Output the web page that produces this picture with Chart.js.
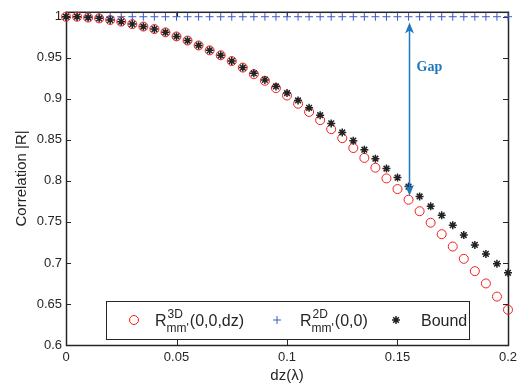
<!DOCTYPE html>
<html>
<head>
<meta charset="utf-8">
<script src="https://cdn.jsdelivr.net/npm/chart.js@4.4.1/dist/chart.umd.min.js"></script>
<style>
    html, body { margin: 0; padding: 0; background: #fff; }
    #wrap { width: 527px; height: 390px; }
</style>
</head>
<body>
<div id="wrap"><canvas id="corr-chart" width="527" height="390"></canvas></div>
<script>
// dz in wavelengths
const dzValues = [0, 0.005, 0.01, 0.015, 0.02, 0.025, 0.03, 0.035, 0.04, 0.045,
    0.05, 0.055, 0.06, 0.065, 0.07, 0.075, 0.08, 0.085, 0.09, 0.095,
    0.1, 0.105, 0.11, 0.115, 0.12, 0.125, 0.13, 0.135, 0.14, 0.145,
    0.15, 0.155, 0.16, 0.165, 0.17, 0.175, 0.18, 0.185, 0.19, 0.195, 0.2];

const r3dValues = [1.000, 1.000, 0.999, 0.998, 0.996, 0.994, 0.991, 0.988, 0.985, 0.981,
    0.976, 0.971, 0.965, 0.959, 0.953, 0.946, 0.938, 0.930, 0.922, 0.913,
    0.904, 0.894, 0.884, 0.874, 0.863, 0.852, 0.840, 0.828, 0.816, 0.803,
    0.790, 0.777, 0.763, 0.749, 0.735, 0.720, 0.705, 0.690, 0.675, 0.659, 0.643];

const r2dValues = [1, 1, 1, 1, 1, 1, 1, 1, 1, 1,
    1, 1, 1, 1, 1, 1, 1, 1, 1, 1,
    1, 1, 1, 1, 1, 1, 1, 1, 1, 1,
    1, 1, 1, 1, 1, 1, 1, 1, 1, 1, 1];

const boundValues = [1.000, 1.000, 0.999, 0.998, 0.996, 0.994, 0.991, 0.988, 0.985, 0.981,
    0.976, 0.971, 0.965, 0.959, 0.953, 0.946, 0.938, 0.931, 0.923, 0.915,
    0.907, 0.898, 0.889, 0.880, 0.870, 0.859, 0.849, 0.838, 0.827, 0.815,
    0.804, 0.793, 0.781, 0.769, 0.758, 0.746, 0.734, 0.722, 0.711, 0.699, 0.688];

const xTickValues = [0, 0.05, 0.1, 0.15, 0.2];
const yTickValues = [0.6, 0.65, 0.7, 0.75, 0.8, 0.85, 0.9, 0.95, 1];

// legend pieces: base, superscript, subscript, tail
const legendBase = ['R', 'R', 'Bound'];
const legendSup = ['3D', '2D', ''];
const legendSub = ["mm'", "mm'", ''];
const legendTail = ['(0,0,dz)', '(0,0)', ''];

// "Gap" annotation
const gapAt = 0.155;
const gapFrom = 0.993;
const gapTo = 0.782;
const gapLabel = 'Gap';
const gapLabelAt = 0.938;

const SANS = '"Liberation Sans", Arial, Helvetica, sans-serif';
const INK = '#262626';
const ARROW_BLUE = 'rgb(30,120,190)';

function fmtTick(v) {
    return String(Number(v.toFixed(3)));
}

function toPoints(values) {
    return values.map((v, i) => ({ x: dzValues[i], y: v }));
}

// box around the plot plus MATLAB style inward ticks
const boxPlugin = {
    id: 'boxPlugin',
    beforeDatasetsDraw(chart) {
        const ctx = chart.ctx;
        const a = chart.chartArea;
        const xs = chart.scales.x, ys = chart.scales.y;
        ctx.save();
        ctx.strokeStyle = INK;
        ctx.lineWidth = 1;
        ctx.beginPath();
        xTickValues.forEach(v => {
            const px = Math.round(xs.getPixelForValue(v)) + 0.5;
            ctx.moveTo(px, a.bottom); ctx.lineTo(px, a.bottom - 5);
            ctx.moveTo(px, a.top); ctx.lineTo(px, a.top + 5);
        });
        yTickValues.forEach(v => {
            const py = Math.round(ys.getPixelForValue(v)) + 0.5;
            ctx.moveTo(a.left, py); ctx.lineTo(a.left + 5, py);
            ctx.moveTo(a.right, py); ctx.lineTo(a.right - 5, py);
        });
        ctx.stroke();
        ctx.lineWidth = 1.5;
        ctx.strokeRect(a.left + 0.5, a.top + 0.5, a.right - a.left, a.bottom - a.top);
        ctx.restore();
    }
};

function arrowHead(ctx, x, yTip, dir) {
    const len = 11, half = 4.5, notch = 3;
    ctx.beginPath();
    ctx.moveTo(x, yTip);
    ctx.lineTo(x - half, yTip - dir * len);
    ctx.lineTo(x, yTip - dir * (len - notch));
    ctx.lineTo(x + half, yTip - dir * len);
    ctx.closePath();
    ctx.fill();
}

const gapPlugin = {
    id: 'gapPlugin',
    afterDatasetsDraw(chart) {
        const ctx = chart.ctx;
        const xs = chart.scales.x, ys = chart.scales.y;
        const x = Math.round(xs.getPixelForValue(gapAt)) + 0.5;
        const yTop = ys.getPixelForValue(gapFrom);
        const yBot = ys.getPixelForValue(gapTo);
        ctx.save();
        ctx.strokeStyle = ARROW_BLUE;
        ctx.fillStyle = ARROW_BLUE;
        ctx.lineWidth = 1.5;
        ctx.beginPath();
        ctx.moveTo(x, yTop + 6);
        ctx.lineTo(x, yBot - 6);
        ctx.stroke();
        arrowHead(ctx, x, yTop, -1);
        arrowHead(ctx, x, yBot, 1);
        ctx.font = 'bold 14px "Liberation Serif", "Times New Roman", serif';
        ctx.textBaseline = 'middle';
        ctx.textAlign = 'left';
        ctx.fillText(gapLabel, x + 7, ys.getPixelForValue(gapLabelAt));
        ctx.restore();
    }
};

const legendPlugin = {
    id: 'legendPlugin',
    afterDraw(chart) {
        const ctx = chart.ctx;
        const box = { x: 106, y: 301, w: 363, h: 38 };
        const markX = [134, 277, 396];
        const textX = [155, 300, 421];
        const cy = box.y + box.h / 2;
        ctx.save();
        ctx.fillStyle = '#fff';
        ctx.fillRect(box.x, box.y, box.w, box.h);
        ctx.strokeStyle = INK;
        ctx.lineWidth = 1;
        ctx.strokeRect(box.x + 0.5, box.y + 0.5, box.w, box.h);

        chart.data.datasets.forEach((ds, i) => {
            ctx.strokeStyle = ds.pointBorderColor;
            ctx.fillStyle = 'rgba(0,0,0,0)';
            ctx.lineWidth = ds.pointBorderWidth;
            Chart.helpers.drawPoint(ctx, {
                pointStyle: ds.pointStyle,
                radius: ds.pointRadius,
                borderWidth: ds.pointBorderWidth,
                rotation: 0
            }, markX[i], cy);

            let tx = textX[i];
            const base = cy + 6;
            ctx.fillStyle = INK;
            ctx.textBaseline = 'alphabetic';
            ctx.textAlign = 'left';
            ctx.font = '16px ' + SANS;
            ctx.fillText(legendBase[i], tx, base);
            tx += ctx.measureText(legendBase[i]).width;
            if (legendSup[i] || legendSub[i]) {
                ctx.font = '12px ' + SANS;
                ctx.fillText(legendSup[i], tx + 1, base - 8);
                ctx.fillText(legendSub[i], tx, base + 6);
                tx += Math.max(ctx.measureText(legendSup[i]).width + 1,
                    ctx.measureText(legendSub[i]).width) + 1;
                ctx.font = '16px ' + SANS;
                ctx.fillText(legendTail[i], tx, base);
            }
        });
        ctx.restore();
    }
};

const chartData = {
    datasets: [{
        label: 'R3D',
        data: toPoints(r3dValues),
        showLine: false,
        pointStyle: 'circle',
        pointRadius: 4.5,
        pointBorderWidth: 1,
        pointBorderColor: 'rgb(240,30,30)',
        pointBackgroundColor: 'rgba(0,0,0,0)',
        clip: false,
        order: 2
    }, {
        label: 'R2D',
        data: toPoints(r2dValues),
        showLine: false,
        pointStyle: 'cross',
        pointRadius: 4,
        pointBorderWidth: 1,
        pointBorderColor: 'rgb(60,90,195)',
        pointBackgroundColor: 'rgba(0,0,0,0)',
        clip: false,
        order: 1
    }, {
        label: 'Bound',
        data: toPoints(boundValues),
        showLine: false,
        pointStyle: 'star',
        pointRadius: 4,
        pointBorderWidth: 1.5,
        pointBorderColor: '#222',
        pointBackgroundColor: 'rgba(0,0,0,0)',
        clip: false,
        order: 0
    }]
};

const config = {
    type: 'scatter',
    data: chartData,
    plugins: [boxPlugin, gapPlugin, legendPlugin],
    options: {
        responsive: false,
        animation: false,
        events: [],
        layout: { padding: { top: 7, right: 19, left: 0, bottom: 0 } },
        plugins: {
            legend: { display: false },
            tooltip: { enabled: false }
        },
        scales: {
            x: {
                type: 'linear',
                min: 0,
                max: 0.2,
                afterBuildTicks: s => { s.ticks = xTickValues.map(v => ({ value: v })); },
                afterFit: s => { s.height = 45; },
                grid: { display: false, drawTicks: false },
                border: { display: false },
                ticks: {
                    callback: v => fmtTick(v),
                    font: { family: SANS, size: 13 },
                    color: INK,
                    padding: 5,
                    maxRotation: 0,
                    autoSkip: false
                },
                title: {
                    display: true,
                    text: 'dz(λ)',
                    font: { family: SANS, size: 15 },
                    color: INK,
                    padding: { top: 0, bottom: 5 }
                }
            },
            y: {
                type: 'linear',
                min: 0.6,
                max: 1.006,
                afterBuildTicks: s => { s.ticks = yTickValues.map(v => ({ value: v })); },
                afterFit: s => { s.width = 66; },
                grid: { display: false, drawTicks: false },
                border: { display: false },
                ticks: {
                    callback: v => fmtTick(v),
                    font: { family: SANS, size: 13 },
                    color: INK,
                    padding: 4,
                    autoSkip: false
                },
                title: {
                    display: true,
                    text: 'Correlation |R|',
                    font: { family: SANS, size: 15 },
                    color: INK,
                    padding: { top: 13, bottom: 0 }
                }
            }
        }
    }
};

new Chart(document.getElementById('corr-chart'), config);
</script>
</body>
</html>
